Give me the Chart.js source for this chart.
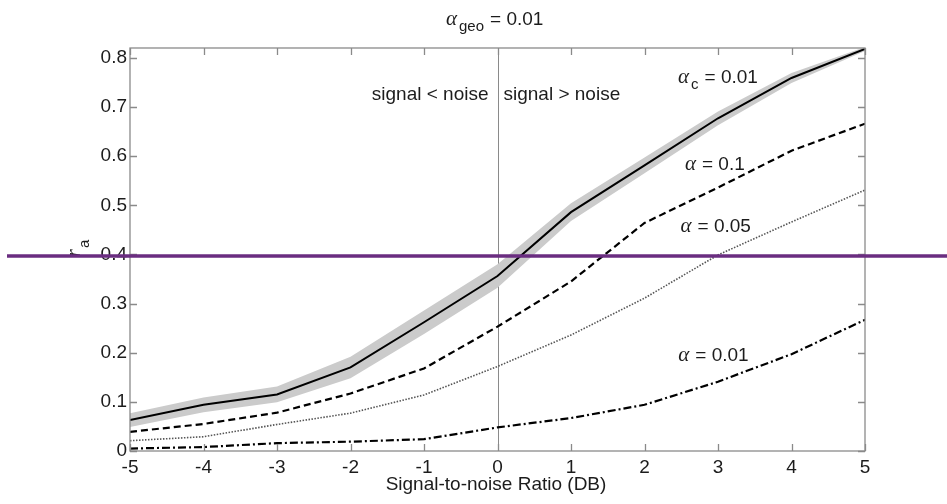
<!DOCTYPE html>
<html>
<head>
<meta charset="utf-8">
<script src="https://cdn.jsdelivr.net/npm/chart.js@4.4.1/dist/chart.umd.min.js"></script>
<style>
  body { margin: 0; background: #fff; }
  #wrap { width: 947px; height: 504px; position: relative; }
</style>
</head>
<body>
<div id="wrap"><canvas id="grafico"></canvas></div>
<script>
// valori
const snr = [-5, -4, -3, -2, -1, 0, 1, 2, 3, 4, 5];
const alphaC001 = [0.063, 0.094, 0.115, 0.170, 0.262, 0.356, 0.486, 0.581, 0.677, 0.759, 0.818];
const bandaSup = [0.077, 0.109, 0.131, 0.192, 0.286, 0.380, 0.504, 0.597, 0.691, 0.769, 0.822];
const bandaInf = [0.049, 0.079, 0.099, 0.148, 0.238, 0.332, 0.468, 0.565, 0.663, 0.749, 0.814];
const alpha010 = [0.039, 0.055, 0.078, 0.117, 0.168, 0.253, 0.345, 0.464, 0.536, 0.611, 0.666];
const alpha005 = [0.021, 0.029, 0.054, 0.077, 0.114, 0.172, 0.236, 0.311, 0.399, 0.466, 0.531];
const alpha001 = [0.005, 0.008, 0.016, 0.019, 0.024, 0.048, 0.067, 0.094, 0.141, 0.197, 0.267];
const xTicks = [-5, -4, -3, -2, -1, 0, 1, 2, 3, 4, 5];
const yTicks = [0, 0.1, 0.2, 0.3, 0.4, 0.5, 0.6, 0.7, 0.8];
const livelloRif = 0.397;

const punti = arr => arr.map((v, i) => ({ x: snr[i], y: v }));

const FONT = "'Liberation Sans', Arial, sans-serif";
const GREEK = "'Liberation Serif', 'Times New Roman', serif";
const INK = '#1c1c1c';

// testo con pedice (alfa + pedice + resto)
function scriviAlfa(ctx, x, y, sub, resto, size) {
    ctx.textBaseline = 'alphabetic';
    ctx.textAlign = 'left';
    ctx.font = 'italic ' + (size + 2) + 'px ' + GREEK;
    ctx.fillText('α', x, y);
    let w = ctx.measureText('α').width;
    if (sub) {
        ctx.font = (size - 4) + 'px ' + FONT;
        ctx.fillText(sub, x + w + 2, y + 6);
        w += ctx.measureText(sub).width + 2;
    }
    ctx.font = size + 'px ' + FONT;
    ctx.fillText(resto, x + w + 6, y);
}

const annotazioni = [
    { x: 2.456, y: 0.749, sub: 'c', testo: '= 0.01' },
    { x: 2.55, y: 0.572, sub: '', testo: '= 0.1' },
    { x: 2.49, y: 0.446, sub: '', testo: '= 0.05' },
    { x: 2.46, y: 0.183, sub: '', testo: '= 0.01' }
];

const cornice = {
    id: 'cornice',
    beforeDatasetsDraw(chart) {
        const { ctx, chartArea: a, scales: { x, y } } = chart;
        ctx.save();
        ctx.strokeStyle = '#8a8a8a';
        ctx.lineWidth = 1;
        const x0 = Math.round(x.getPixelForValue(0)) + 0.5;
        ctx.beginPath();
        ctx.moveTo(x0, a.top);
        ctx.lineTo(x0, a.bottom);
        ctx.stroke();
        ctx.restore();
    },
    afterDraw(chart) {
        const { ctx, chartArea: a, scales: { x, y } } = chart;
        ctx.save();
        ctx.strokeStyle = '#8a8a8a';
        ctx.lineWidth = 1.3;
        ctx.strokeRect(a.left, a.top, a.right - a.left, a.bottom - a.top);
        const t = 7;
        ctx.beginPath();
        xTicks.forEach(v => {
            const px = Math.round(x.getPixelForValue(v)) + 0.5;
            ctx.moveTo(px, a.bottom); ctx.lineTo(px, a.bottom - t);
            ctx.moveTo(px, a.top); ctx.lineTo(px, a.top + t);
        });
        yTicks.forEach(v => {
            const py = Math.round(y.getPixelForValue(v)) + 0.5;
            ctx.moveTo(a.left, py); ctx.lineTo(a.left + t, py);
            ctx.moveTo(a.right, py); ctx.lineTo(a.right - t, py);
        });
        ctx.stroke();

        ctx.fillStyle = INK;
        // titolo
        scriviAlfa(ctx, 446, 25, 'geo', '= 0.01', 19);
        // testi zona segnale
        ctx.font = '19px ' + FONT;
        ctx.textBaseline = 'alphabetic';
        const xz = x.getPixelForValue(0);
        ctx.textAlign = 'right';
        ctx.fillText('signal < noise', xz - 9, 100);
        ctx.textAlign = 'left';
        ctx.fillText('signal > noise', xz + 6, 100);
        // etichette curve
        annotazioni.forEach(n => {
            scriviAlfa(ctx, x.getPixelForValue(n.x), y.getPixelForValue(n.y), n.sub, n.testo, 19);
        });
        // titolo asse x
        ctx.font = '19px ' + FONT;
        ctx.textAlign = 'center';
        ctx.fillText('Signal-to-noise Ratio (DB)', 496, 490);
        // titolo asse y ruotato
        ctx.save();
        ctx.translate(80, 257);
        ctx.rotate(-Math.PI / 2);
        ctx.textAlign = 'left';
        ctx.font = 'italic 20px ' + GREEK;
        ctx.fillText('r', 0, 0);
        ctx.font = '15px ' + FONT;
        ctx.fillText('a', 9, 9);
        ctx.restore();

        // linea viola orizzontale
        const yr = y.getPixelForValue(livelloRif);
        ctx.strokeStyle = '#6a2d80';
        ctx.lineWidth = 3.5;
        ctx.beginPath();
        ctx.moveTo(7, yr);
        ctx.lineTo(chart.width, yr);
        ctx.stroke();
        ctx.restore();
    }
};

new Chart(document.getElementById('grafico'), {
    type: 'line',
    data: {
        datasets: [
            { label: 'banda inf', data: punti(bandaInf), borderWidth: 0, pointRadius: 0, fill: false, order: 10 },
            { label: 'banda sup', data: punti(bandaSup), borderWidth: 0, pointRadius: 0, fill: '-1', backgroundColor: '#cbcbcb', order: 9 },
            { label: 'alpha_c 0.01', data: punti(alphaC001), borderColor: '#000', borderWidth: 2, pointRadius: 0, order: 1 },
            { label: 'alpha 0.1', data: punti(alpha010), borderColor: '#000', borderWidth: 2.2, borderDash: [7, 4], pointRadius: 0, order: 2 },
            { label: 'alpha 0.05', data: punti(alpha005), borderColor: '#555', borderWidth: 1.6, borderDash: [1.5, 1.5], pointRadius: 0, order: 3 },
            { label: 'alpha 0.01', data: punti(alpha001), borderColor: '#000', borderWidth: 2.2, borderDash: [8, 3, 2, 3], pointRadius: 0, order: 4 }
        ]
    },
    options: {
        responsive: true,
        maintainAspectRatio: false,
        animation: false,
        layout: { padding: { top: 48, right: 82, left: 0, bottom: 0 } },
        plugins: {
            legend: { display: false },
            tooltip: { enabled: false },
            title: { display: false }
        },
        scales: {
            x: {
                type: 'linear',
                min: -5,
                max: 5,
                afterFit: s => { s.height = 53; },
                afterBuildTicks: s => { s.ticks = xTicks.map(v => ({ value: v })); },
                grid: { display: false, drawTicks: false },
                border: { display: false },
                ticks: { color: INK, font: { family: FONT, size: 19 }, padding: 5, maxRotation: 0 }
            },
            y: {
                type: 'linear',
                min: 0,
                max: 0.82,
                afterFit: s => { s.width = 130; },
                afterBuildTicks: s => { s.ticks = yTicks.map(v => ({ value: v })); },
                grid: { display: false, drawTicks: false },
                border: { display: false },
                ticks: { color: INK, font: { family: FONT, size: 19 }, padding: 3 }
            }
        }
    },
    plugins: [cornice]
});
</script>
</body>
</html>
